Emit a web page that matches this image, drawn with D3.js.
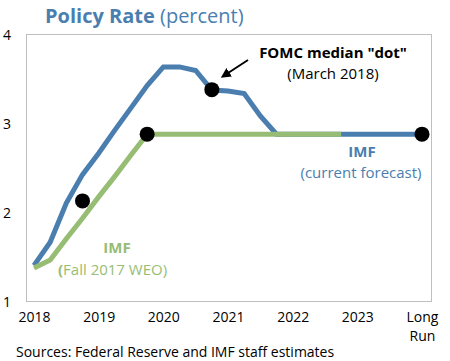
<!DOCTYPE html>
<html>
<head>
<meta charset="utf-8">
<script src="https://cdn.jsdelivr.net/npm/d3@7"></script>
<style>
  body { margin: 0; background: #fff; }
  text { font-family: "Open Sans", sans-serif; }
</style>
</head>
<body>
<div id="chart"></div>
<script>
// quarterly points, 2018Q1 ... 2023Q4, then Long Run
var tickLabels = ["2018", "2019", "2020", "2021", "2022", "2023", "Long Run"];
var yTicks = [1, 2, 3, 4];

var imfCurrent = [1.40, 1.66, 2.10, 2.42, 2.66, 2.92, 3.17, 3.42, 3.63, 3.63, 3.59, 3.37,
                  3.36, 3.33, 3.08, 2.875, 2.875, 2.875, 2.875, 2.875, 2.875, 2.875, 2.875, 2.875, 2.875];
var imfFall2017 = [1.37, 1.46, 1.70, 1.93, 2.17, 2.40, 2.64, 2.875, 2.875, 2.875, 2.875, 2.875,
                   2.875, 2.875, 2.875, 2.875, 2.875, 2.875, 2.875, 2.875];
var dotIndex = [3, 7, 11, 24];
var dotValue = [2.125, 2.875, 3.375, 2.875];

var blue = "#4A7EAF", green = "#97BD74";

var width = 450, height = 361;
var box = {left: 26, right: 431, top: 34, bottom: 301};

var svg = d3.select("#chart").append("svg")
    .attr("width", width)
    .attr("height", height);

var x = d3.scaleLinear().domain([0, 24]).range([34, 422]);
var y = d3.scaleLinear().domain([1, 4]).range([box.bottom, box.top]);

// plot frame
svg.append("rect")
    .attr("x", box.left + 0.5)
    .attr("y", box.top + 0.5)
    .attr("width", box.right - box.left)
    .attr("height", box.bottom - box.top)
    .attr("fill", "none")
    .attr("stroke", "#bfbfbf");

// y axis labels
var yAxis = svg.append("g")
    .attr("transform", "translate(11,1)")
    .call(d3.axisLeft(y).tickValues(yTicks).tickSize(0).tickPadding(0)
        .tickFormat(d3.format("d")));
yAxis.select(".domain").remove();
yAxis.selectAll("text")
    .style("font-family", "'Open Sans', sans-serif")
    .style("font-size", "14px")
    .attr("fill", "#000");

// x axis labels
var xAxis = svg.append("g")
    .attr("transform", "translate(0," + (box.bottom + 8) + ")")
    .call(d3.axisBottom(x).tickValues([0, 4, 8, 12, 16, 20, 24]).tickSize(0)
        .tickFormat(function(d, i) { return tickLabels[i]; }));
xAxis.select(".domain").remove();
xAxis.selectAll("text")
    .style("font-family", "'Open Sans', sans-serif")
    .style("font-size", "14px")
    .attr("fill", "#000")
    .each(function(d, i) {
        var words = tickLabels[i].split(" ");
        if (words.length > 1) {
            var t = d3.select(this).text(null);
            words.forEach(function(w, k) {
                t.append("tspan").attr("x", 0).attr("dy", k ? "1.35em" : "0.71em").text(w);
            });
            t.attr("dy", null);
        }
    });

var line = d3.line()
    .x(function(d, i) { return x(i); })
    .y(function(d) { return y(d); });

svg.append("path")
    .datum(imfCurrent)
    .attr("d", line)
    .attr("fill", "none")
    .attr("stroke", blue)
    .attr("stroke-width", 5);

svg.append("path")
    .datum(imfFall2017)
    .attr("d", line)
    .attr("fill", "none")
    .attr("stroke", green)
    .attr("stroke-width", 5);

svg.selectAll("circle.dot")
    .data(dotIndex)
    .enter().append("circle")
    .attr("class", "dot")
    .attr("cx", function(d) { return x(d); })
    .attr("cy", function(d, i) { return y(dotValue[i]); })
    .attr("r", 7.5)
    .attr("fill", "#000");

// title
var title = svg.append("text")
    .attr("x", 45)
    .attr("y", 23)
    .attr("fill", blue)
    .style("font-size", "20px");
title.append("tspan").attr("font-weight", "bold").text("Policy Rate");
title.append("tspan").text(" (percent)");

// FOMC annotation
svg.append("defs").append("marker")
    .attr("id", "arrow")
    .attr("viewBox", "0 0 10 10")
    .attr("refX", 5).attr("refY", 5)
    .attr("markerWidth", 5).attr("markerHeight", 5)
    .attr("orient", "auto")
  .append("path")
    .attr("d", "M0,0L10,5L0,10z")
    .attr("fill", "#000");

svg.append("line")
    .attr("x1", 248).attr("y1", 60)
    .attr("x2", 225).attr("y2", 75)
    .attr("stroke", "#000")
    .attr("stroke-width", 2)
    .attr("marker-end", "url(#arrow)");

svg.append("text")
    .attr("x", 333).attr("y", 58)
    .attr("text-anchor", "middle")
    .attr("font-weight", "bold")
    .style("font-size", "15px")
    .text("FOMC median \"dot\"");
svg.append("text")
    .attr("x", 333).attr("y", 79)
    .attr("text-anchor", "middle")
    .style("font-size", "15px")
    .text("(March 2018)");

// IMF labels
svg.append("text")
    .attr("x", 362).attr("y", 157)
    .attr("text-anchor", "middle")
    .attr("font-weight", "bold")
    .attr("fill", blue)
    .style("font-size", "15px")
    .text("IMF");
svg.append("text")
    .attr("x", 361).attr("y", 178)
    .attr("text-anchor", "middle")
    .attr("fill", blue)
    .style("font-size", "15px")
    .text("(current forecast)");

svg.append("text")
    .attr("x", 117).attr("y", 253)
    .attr("text-anchor", "middle")
    .attr("font-weight", "bold")
    .attr("fill", green)
    .style("font-size", "15px")
    .text("IMF");
var weo = svg.append("text")
    .attr("x", 58).attr("y", 275)
    .attr("fill", green)
    .style("font-size", "15px");
weo.append("tspan").attr("font-weight", "bold").text("(");
weo.append("tspan").text("Fall 2017 WEO)");

svg.append("text")
    .attr("x", 16).attr("y", 357)
    .style("font-size", "14px")
    .text("Sources: Federal Reserve and IMF staff estimates");
</script>
</body>
</html>
